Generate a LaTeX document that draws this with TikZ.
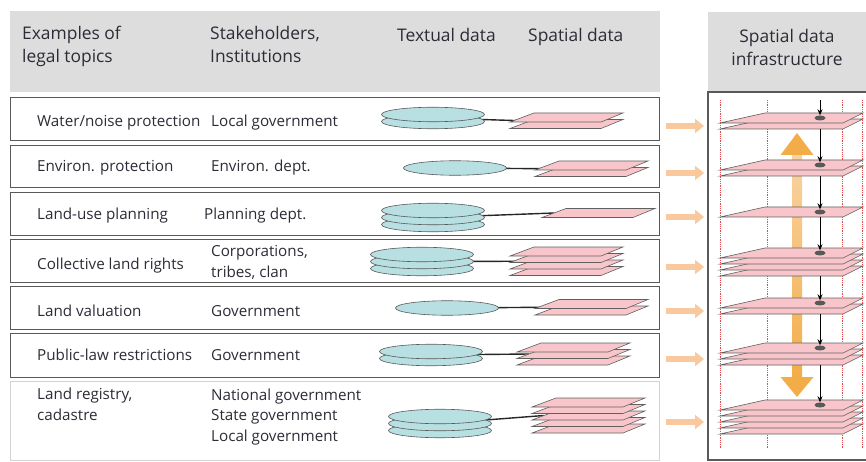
\documentclass[tikz,border=0pt]{standalone}
\usepackage{fontspec}
\setmainfont{Open Sans}
\usetikzlibrary{shapes.geometric,arrows.meta,positioning}
\pgfdeclarelayer{background}
\pgfsetlayers{background,main}

\definecolor{hdrgray}{HTML}{DDDDDD}
\definecolor{ink}{HTML}{2C2C36}
\definecolor{diskfill}{HTML}{B8DFE2}
\definecolor{sheetfill}{HTML}{F8C6CA}
\definecolor{feedor}{HTML}{F9C89C}
\definecolor{bigor}{HTML}{F3AD48}
\definecolor{paleor}{HTML}{F8D3A3}
\definecolor{guidered}{HTML}{E5484D}

\tikzset{
  rowbox/.style={draw=gray!70!black, line width=1.3pt, minimum width=649pt, anchor=north west, inner sep=0},
  lbl/.style={anchor=base west, inner sep=0, text=ink, font=\fontsize{15.2}{20.5}\selectfont, align=left},
  hdr/.style={lbl, font=\fontsize{17.4}{23}\selectfont},
  disk/.style={ellipse, draw=gray!70!black, fill=diskfill, line width=0.6pt, minimum width=103pt, minimum height=14.5pt, inner sep=0},
  sheet/.style={draw=gray!75!black, fill=sheetfill, line width=0.6pt},
  link/.style={draw=black!85, line width=1.4pt},
  feed/.style={draw=feedor, line width=5.5pt, -{Triangle[length=9pt,width=14pt]}, shorten <=6pt},
  drop/.style={draw=black, line width=0.9pt, -{Stealth[length=6pt,width=5pt]}},
  hub/.style={ellipse, fill=black!65, minimum width=11pt, minimum height=5pt, inner sep=0},
  guide/.style={draw=guidered, line width=0.7pt, dash pattern=on 0.9pt off 0.9pt},
}

% stack of text records: name, x, y of top disk, count
\newcommand\diskstack[4]{%
  \foreach \k in {#4,...,1}
    \node[disk] (#1-\k) at (#2,{#3+(\k-1)*7}) {};
  \coordinate (#1) at (#2,{#3+(#4-1)*3.5});
}
% stack of map sheets: name, x of left tip, y of top, count
\newcommand\sheetstack[4]{%
  \foreach \k in {#4,...,1}
    \draw[sheet] (#2,{#3+9+(\k-1)*6.5}) -- ({#2+24},{#3+(\k-1)*6.5})
      -- ({#2+113},{#3+(\k-1)*6.5}) -- ({#2+91},{#3+9+(\k-1)*6.5}) -- cycle;
  \coordinate (#1) at ({#2+12},{#3+4.5+(#4-1)*3.25});
}
% layers of the infrastructure: name, y of top, count
\newcommand\sdilayer[3]{%
  \foreach \k in {#3,...,1}
    \draw[sheet] (720,{#2+10+(\k-1)*6}) -- (765,{#2+(\k-1)*6})
      -- (863,{#2+(\k-1)*6}) -- (843,{#2+10+(\k-1)*6}) -- cycle;
  \node[hub] (#1) at (820,{#2+5}) {};
  \coordinate (#1-b) at (820,{#2+10+(#3-1)*6});
  \coordinate (#1-in) at (704,{#2+10+(#3-1)*3});
}

\begin{document}
\begin{tikzpicture}[x=1pt,y=-1pt]
\useasboundingbox (0,0) rectangle (866,462);

% headings
\fill[hdrgray] (10,11) rectangle (660,92);
\fill[hdrgray] (708,12) rectangle (866,92);
\node[hdr] (hd1) at (22,63) {Examples of\\legal topics};
\node[hdr] (hd2) at (210,63) {Stakeholders,\\Institutions};
\node[hdr] (hd3) at (397,42) {Textual data};
\node[hdr] (hd4) at (528,42) {Spatial data};
\node[hdr, anchor=base, align=center] (hd5) at (787,66) {Spatial data\\infrastructure};

% rows
\node[rowbox, minimum height=43pt] (row1) at (10,97) {};
\node[rowbox, minimum height=42pt] (row2) at (10,145) {};
\node[rowbox, minimum height=43pt] (row3) at (10,192) {};
\node[rowbox, minimum height=43pt] (row4) at (10,239) {};
\node[rowbox, minimum height=43pt] (row5) at (10,286) {};
\node[rowbox, minimum height=44pt] (row6) at (10,333) {};
\node[rowbox, draw=gray!35, minimum height=79pt] (row7) at (10,381) {};

\node[lbl] (topic1) at (37,127) {Water/noise protection};
\node[lbl] (who1) at (211,127) {Local government};
\node[lbl] (topic2) at (37,172) {Environ. protection};
\node[lbl] (who2) at (211,172) {Environ. dept.};
\node[lbl] (topic3) at (37,219) {Land-use planning};
\node[lbl] (who3) at (204,219) {Planning dept.};
\node[lbl] (topic4) at (37,269) {Collective land rights};
\node[lbl] (who4) at (211,277) {Corporations,\\tribes, clan};
\node[lbl] (topic5) at (37,316) {Land valuation};
\node[lbl] (who5) at (211,316) {Government};
\node[lbl] (topic6) at (37,360) {Public-law restrictions};
\node[lbl] (who6) at (211,360) {Government};
\node[lbl] (topic7) at (37,420) {Land registry,\\cadastre};
\node[lbl] (who7) at (211,441) {National government\\State government\\Local government};

% textual and spatial data
\diskstack{t1}{433}{114.5}{2}
\diskstack{t2}{455}{168}{1}
\diskstack{t3}{433}{210.5}{3}
\diskstack{t4}{422}{254.5}{3}
\diskstack{t5}{447}{308}{1}
\diskstack{t6}{431}{351.5}{2}
\diskstack{t7}{440}{416.5}{3}
\sheetstack{p1}{510}{113}{2}
\sheetstack{p2}{535}{161}{2}
\sheetstack{p3}{542}{208.5}{1}
\sheetstack{p4}{510}{247}{4}
\sheetstack{p5}{535}{299.5}{2}
\sheetstack{p6}{517}{343}{3}
\sheetstack{p7}{532}{398}{5}
\begin{pgfonlayer}{background}
\foreach \i in {1,...,7}
  \draw[link] (t\i) -- (p\i);
\end{pgfonlayer}

% infrastructure
\draw[gray!70!black, line width=1.3pt] (708,92) rectangle (872,460);
\foreach \x in {720,767,842,862}
  \draw[guide] (\x,100) -- (\x,448);
\shade[top color=paleor, bottom color=bigor] (792,154) rectangle (802,378);
\fill[bigor] (797,133) -- (813.5,155) -- (780.5,155) -- cycle;
\fill[bigor] (797,397) -- (813.5,377) -- (780.5,377) -- cycle;
\sdilayer{s1}{113}{2}
\sdilayer{s2}{160}{2}
\sdilayer{s3}{207}{1}
\sdilayer{s4}{248}{4}
\sdilayer{s5}{298}{2}
\sdilayer{s6}{343}{3}
\sdilayer{s7}{400}{5}
\coordinate (s0-b) at (820,100);
\foreach \i [count=\j from 0] in {1,...,7}
  \draw[drop] (s\j-b) -- (s\i);
\foreach \i in {1,...,7}
  \draw[feed] (row\i.east |- s\i-in) -- (s\i-in);
\end{tikzpicture}
\end{document}
